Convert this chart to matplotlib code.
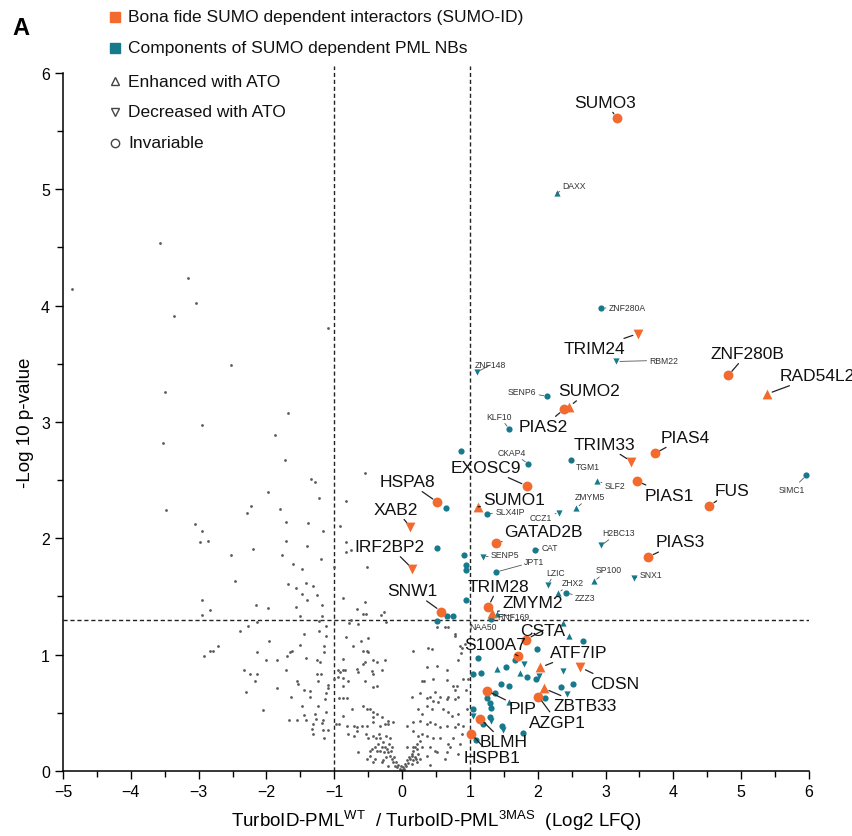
import numpy as np
import matplotlib
matplotlib.use("Agg")
import matplotlib.pyplot as plt

plt.rcParams['font.family'] = ['Liberation Sans', 'DejaVu Sans']
plt.rcParams['mathtext.fontset'] = 'custom'
plt.rcParams['mathtext.rm'] = 'Liberation Sans'

ORANGE = '#f26a2e'
TEAL = '#16798c'
GREY = '#5a5a5a'

# bona fide SUMO dependent interactors (SUMO-ID)
orange_names = ['SUMO3', 'TRIM24', 'ZNF280B', 'RAD54L2', 'SUMO2', 'PIAS2', 'PIAS4', 'TRIM33',
                'PIAS1', 'FUS', 'PIAS3', 'EXOSC9', 'SUMO1', 'GATAD2B', 'HSPA8', 'XAB2',
                'IRF2BP2', 'SNW1', 'TRIM28', 'ZMYM2', 'CSTA', 'S100A7', 'ATF7IP', 'CDSN',
                'ZBTB33', 'AZGP1', 'PIP', 'BLMH', 'HSPB1']
orange_x = [3.17, 3.48, 4.81, 5.38, 2.46, 2.39, 3.73, 3.38, 3.47, 4.53, 3.63, 1.84, 1.12, 1.39,
            0.52, 0.12, 0.15, 0.58, 1.27, 1.33, 1.83, 1.71, 2.04, 2.63, 2.09, 2.01, 1.25, 1.15, 1.02]
orange_y = [5.61, 3.76, 3.40, 3.24, 3.13, 3.11, 2.73, 2.66, 2.49, 2.28, 1.84, 2.45, 2.27, 1.96,
            2.31, 2.10, 1.74, 1.37, 1.41, 1.36, 1.13, 0.99, 0.89, 0.89, 0.71, 0.64, 0.69, 0.45, 0.32]
orange_shape = ['o', 'v', 'o', '^', '^', 'o', 'o', 'v', 'o', 'o', 'o', 'o', '^', 'o', 'o', 'v',
                'v', 'o', 'o', '^', 'o', 'o', '^', 'v', '^', 'o', 'o', 'o', 'o']

# components of SUMO dependent PML NBs (labelled)
teal_names = ['DAXX', 'ZNF280A', 'RBM22', 'ZNF148', 'SENP6', 'KLF10', 'CKAP4', 'TGM1', 'SLF2',
              'ZMYM5', 'CCZ1', 'SLX4IP', 'SIMC1', 'H2BC13', 'CAT', 'SENP5', 'JPT1', 'LZIC',
              'ZHX2', 'ZZZ3', 'SP100', 'SNX1', 'RNF169', 'NAA50']
teal_x = [2.28, 2.94, 3.16, 1.11, 2.14, 1.58, 1.86, 2.49, 2.88, 2.57, 2.32, 1.25, 5.96, 2.94,
          1.96, 1.19, 1.39, 2.15, 2.30, 2.42, 2.83, 3.42, 1.40, 1.31]
teal_y = [4.97, 3.98, 3.52, 3.43, 3.22, 2.94, 2.64, 2.67, 2.49, 2.26, 2.22, 2.21, 2.54, 1.94,
          1.90, 1.84, 1.71, 1.60, 1.53, 1.53, 1.63, 1.66, 1.35, 1.31]
teal_shape = ['^', 'o', 'v', 'v', 'o', 'o', 'o', 'o', '^', '^', 'v', 'o', 'o', 'v', 'o', 'v',
              'o', 'v', '^', 'o', '^', 'v', '^', 'o']

# components of SUMO dependent PML NBs (unlabelled)
teal2_x = [0.94, 0.66, 0.75, 0.52, 0.87, 0.65, 0.52, 0.91, 0.94, 0.94, 2.37, 2.46, 2.67, 1.99,
           1.12, 1.80, 1.67, 1.40, 1.53, 1.05, 1.17, 1.74, 1.84, 1.98, 2.02, 2.37, 1.46, 1.58,
           2.35, 2.52, 2.43, 1.37, 1.25, 1.30, 1.31, 1.58, 1.05, 1.05, 1.30, 1.31, 1.47, 1.49,
           1.78, 1.09, 2.11, 1.19]
teal2_y = [1.47, 1.33, 1.33, 1.29, 2.75, 2.26, 1.92, 1.86, 1.77, 1.73, 1.27, 1.16, 1.12, 1.05,
           0.97, 0.92, 0.95, 0.88, 0.89, 0.83, 0.84, 0.84, 0.81, 0.79, 0.82, 0.86, 0.75, 0.73,
           0.72, 0.75, 0.66, 0.67, 0.63, 0.58, 0.54, 0.59, 0.53, 0.47, 0.46, 0.43, 0.39, 0.35,
           0.33, 0.27, 0.63, 0.40]
teal2_shape = ['o', 'o', 'o', 'o', 'o', 'o', 'o', 'o', 'o', 'o', '^', '^', 'o', 'o',
               'o', 'v', 'o', '^', 'o', 'o', 'o', '^', 'o', 'o', 'v', 'v', 'o', 'o',
               'o', 'o', 'v', 'o', 'o', 'o', 'o', '^', 'o', 'v', 'o', 'v', 'o', 'v',
               'o', 'o', 'o', 'o']

# all other proteins
grey_x = [-4.87, -3.57, -3.16, -3.04, -3.36, -1.10, -2.53, -3.49, -2.95, -3.52, -3.48, -1.68,
          -1.87, -1.73, -1.34, -1.28, -1.22, -1.98, -2.23, -2.29, -1.80, -1.71, -1.39, -1.17,
          -0.91, -0.83, -0.55, -3.05, -2.95, -2.98, -2.86, -2.52, -2.20, -1.71, -1.40, -1.77,
          -1.19, -1.61, -1.47, -0.83, -0.83, -0.75, -1.00, -0.52, -2.46, -1.68, -1.56, -1.42,
          -1.31, -1.47, -1.40, -1.25, -2.95, -2.83, -2.95, -2.15, -1.98, -1.56, -1.18, -1.18,
          -1.50, -0.87, -0.55, -0.58, -0.31, -0.27, -0.75, -0.65, -0.78, -0.24, -2.14, -2.27,
          -1.22, -1.12, -1.45, -1.96, -2.71, -1.50, -1.15, -0.83, -0.72, -0.60, -0.50, -0.66,
          -0.53, 0.52, 0.63, 0.68, 0.78,
          -2.39, -2.92, -2.83, -2.79, -2.14, -2.01, -1.84, -1.70, -1.65, -1.62, -1.22, -1.12,
          -1.15, -1.21, -1.25, -1.42, -2.33, -2.24, -2.14, -2.17, -2.30, -1.84, -1.71, -1.64,
          -1.55, -1.53, -1.45, -1.36, -1.36, -1.47, -2.05, -1.67, -1.55, -1.42, -1.45, -1.28,
          -1.27, -1.31, -1.33, -1.31, -1.24, -1.12, -1.14, -1.09, -1.09, -1.12, -1.17, -1.18,
          -1.17, -1.09, -1.15, -1.25, -1.24, -1.19, -0.94, -0.91, -0.87, -0.84, -1.00, -0.94,
          -0.87, -0.80, -0.87, -0.93, -0.87, -0.81, -0.74, -0.87, -0.97, -0.93, -0.81, -0.71,
          -0.80, -0.71, -0.66, -0.59, -0.52, -0.66, -0.65, -0.58, -0.55, -0.50, -0.58, -0.52,
          -0.87, -0.43, -0.37, -0.25, -0.44, -0.43, -0.30, -0.55, -0.43, -0.37, -0.58, -0.52,
          -0.47, -0.43, -0.37, -0.43, -0.30, -0.43, -0.32, -0.25, -0.21, -0.21, -0.13, -0.66,
          -0.53, -0.50, -0.43,
          -0.32, -0.28, -0.25, -0.22, -0.21, -0.18, -0.15, -0.13, -0.10, -0.07, -0.03, 0.01,
          0.04, 0.07, 0.10, 0.15, 0.16, 0.19, 0.22, 0.27, -0.29, -0.27, -0.24, -0.19, -0.16,
          -0.12, -0.09, -0.06, -0.01, 0.00, 0.03, 0.06, 0.09, 0.12, 0.15, 0.21, 0.24, 0.19,
          0.16, -0.35, -0.38, -0.34, -0.24, -0.18, -0.15, -0.32, -0.37, -0.44, -0.47, -0.40,
          -0.28,
          0.16, 0.38, 0.44, 0.37, 0.52, 0.66, 0.29, 0.32, 0.46, 0.66, 0.75, 0.81, 0.78, 0.15,
          0.27, 0.37, 0.41, 0.49, 0.56, 0.66, 0.68, 0.83, 0.24, 0.29, 0.37, 0.44, 0.46, 0.53,
          0.60, 0.68, 0.74, 0.83, 0.07, 0.16, 0.27, 0.37, 0.41, 0.49, 0.56, 0.66, 0.78, 0.83,
          0.90, 0.16, 0.24, 0.29, 0.37, 0.46, 0.56, 0.68, 0.75, 0.86, 0.07, 0.16, 0.22, 0.29,
          0.41, 0.49, 0.52, 0.66, 0.37, 0.15, 0.27, 0.22, 0.41, -0.40, -0.47, -0.65, -0.52,
          -0.43, -0.29, -0.21, 0.90, 0.97, 0.96, 0.87, 0.83, 0.93, 0.94, 0.78, 0.88, 0.83,
          0.63, 0.71, 0.78, 0.86, 0.88]
grey_y = [4.14, 4.54, 4.24, 4.02, 3.91, 3.81, 3.49, 3.26, 2.97, 2.82, 2.24, 3.08,
          2.89, 2.67, 2.51, 2.48, 2.35, 2.40, 2.28, 2.22, 2.25, 2.14, 2.13, 2.06,
          2.11, 2.32, 2.56, 2.12, 2.06, 1.97, 1.98, 1.86, 1.91, 1.98, 1.93, 1.86,
          1.82, 1.78, 1.74, 1.97, 1.88, 1.90, 1.75, 1.75, 1.63, 1.61, 1.57, 1.62,
          1.59, 1.52, 1.47, 1.51, 1.47, 1.38, 1.34, 1.43, 1.40, 1.41, 1.43, 1.33,
          1.33, 1.49, 1.45, 1.35, 1.34, 1.37, 1.30, 1.26, 1.27, 1.28, 1.28, 1.25,
          1.29, 1.25, 1.18, 1.12, 1.07, 1.08, 1.07, 1.15, 1.07, 1.12, 1.14, 1.39,
          1.35, 1.24, 1.24, 1.24, 1.18,
          1.20, 0.99, 1.03, 1.03, 1.02, 0.95, 0.95, 0.99, 1.02, 1.03, 1.20, 1.16,
          1.02, 0.94, 0.95, 0.97, 0.87, 0.83, 0.83, 0.77, 0.68, 0.71, 0.87, 0.64,
          0.77, 0.75, 0.70, 0.69, 0.64, 0.56, 0.52, 0.44, 0.44, 0.44, 0.48, 0.49,
          0.45, 0.40, 0.36, 0.32, 0.56, 0.67, 0.62, 0.71, 0.74, 0.51, 0.44, 0.41,
          0.35, 0.35, 0.28, 0.83, 0.77, 0.83, 0.87, 0.85, 0.87, 0.87, 0.79, 0.81,
          0.80, 0.77, 0.73, 0.63, 0.63, 0.63, 0.53, 0.47, 0.40, 0.40, 0.39, 0.39,
          0.32, 0.30, 0.38, 0.39, 0.39, 0.88, 0.85, 0.92, 0.94, 1.02, 1.03, 1.03,
          0.96, 0.95, 0.94, 0.95, 0.86, 0.83, 0.87, 0.77, 0.72, 0.73, 0.56, 0.53,
          0.53, 0.51, 0.49, 0.46, 0.46, 0.42, 0.39, 0.40, 0.40, 0.43, 0.42, 0.34,
          0.32, 0.28, 0.30,
          0.28, 0.25, 0.21, 0.19, 0.16, 0.13, 0.10, 0.08, 0.04, 0.03, 0.02, 0.03,
          0.06, 0.09, 0.12, 0.15, 0.17, 0.21, 0.23, 0.26, 0.21, 0.16, 0.12, 0.23, 0.17,
          0.12, 0.08, 0.05, 0.04, 0.01, 0.02, 0.04, 0.07, 0.10, 0.06, 0.10, 0.15, 0.12,
          0.09, 0.23, 0.28, 0.32, 0.30, 0.28, 0.21, 0.17, 0.17, 0.19, 0.13, 0.10,
          0.09,
          1.03, 1.06, 1.05, 0.89, 0.90, 0.87, 0.77, 0.77, 0.79, 0.78, 0.73, 0.73, 0.70, 0.64,
          0.67, 0.63, 0.64, 0.68, 0.64, 0.62, 0.64, 0.64, 0.53, 0.49, 0.56, 0.53, 0.60, 0.59,
          0.53, 0.51, 0.47, 0.49, 0.39, 0.42, 0.43, 0.40, 0.42, 0.40, 0.38, 0.39, 0.38, 0.40,
          0.39, 0.34, 0.30, 0.32, 0.30, 0.28, 0.28, 0.23, 0.28, 0.23, 0.21, 0.21, 0.19, 0.21,
          0.21, 0.17, 0.16, 0.16, 0.13, 0.13, 0.10, 0.08, 0.05, 0.21, 0.17, 0.16, 0.10,
          0.08, 0.08, 0.04, 0.79, 0.79, 0.53, 1.01, 0.95, 1.09, 0.70, 0.62, 0.32, 0.15,
          0.10, 0.21, 1.16, 1.07, 1.06]

# label anchor positions (layout only)
orange_label_pos = {
    'SUMO3': (3.0, 5.75), 'TRIM24': (2.83, 3.63), 'ZNF280B': (5.09, 3.59), 'RAD54L2': (6.12, 3.40),
    'SUMO2': (2.76, 3.27), 'PIAS2': (2.08, 2.96), 'PIAS4': (4.17, 2.87), 'TRIM33': (2.98, 2.81),
    'PIAS1': (3.94, 2.37), 'FUS': (4.87, 2.41), 'PIAS3': (4.10, 1.97), 'EXOSC9': (1.23, 2.61),
    'SUMO1': (1.65, 2.33), 'GATAD2B': (2.09, 2.06), 'HSPA8': (0.08, 2.49), 'XAB2': (-0.10, 2.25),
    'IRF2BP2': (-0.18, 1.93), 'SNW1': (0.15, 1.55), 'TRIM28': (1.42, 1.59), 'ZMYM2': (1.92, 1.45),
    'CSTA': (2.08, 1.21), 'S100A7': (1.37, 1.09), 'ATF7IP': (2.60, 1.02), 'CDSN': (3.13, 0.75),
    'ZBTB33': (2.70, 0.56), 'AZGP1': (2.29, 0.42), 'PIP': (1.77, 0.54), 'BLMH': (1.50, 0.25),
    'HSPB1': (1.33, 0.12)}
teal_label_pos = {
    'DAXX': (2.54, 5.03), 'ZNF280A': (3.32, 3.98), 'RBM22': (3.86, 3.53), 'ZNF148': (1.30, 3.49),
    'SENP6': (1.77, 3.26), 'KLF10': (1.43, 3.05), 'CKAP4': (1.62, 2.74), 'TGM1': (2.74, 2.62),
    'SLF2': (3.14, 2.45), 'ZMYM5': (2.77, 2.36), 'CCZ1': (2.05, 2.18), 'SLX4IP': (1.59, 2.23),
    'SIMC1': (5.75, 2.42), 'H2BC13': (3.19, 2.05), 'CAT': (2.18, 1.92), 'SENP5': (1.52, 1.86),
    'JPT1': (1.95, 1.80), 'LZIC': (2.26, 1.71), 'ZHX2': (2.51, 1.62), 'ZZZ3': (2.70, 1.49),
    'SP100': (3.04, 1.73), 'SNX1': (3.67, 1.69), 'RNF169': (1.64, 1.33), 'NAA50': (1.19, 1.24)}


def scatter_by_shape(ax, xs, ys, shapes, **kw):
    xs = np.asarray(xs)
    ys = np.asarray(ys)
    shapes = np.asarray(shapes)
    for m in ['o', '^', 'v']:
        sel = shapes == m
        if sel.any():
            ax.scatter(xs[sel], ys[sel], marker=m, **kw)


fig = plt.figure(figsize=(8.53, 8.37), dpi=100)
ax = fig.add_axes([0.0739, 0.0777, 0.8745, 0.8339])

ax.scatter(grey_x, grey_y, s=4, color=GREY, linewidths=0, zorder=2)
scatter_by_shape(ax, teal2_x, teal2_y, teal2_shape, s=20, color=TEAL, linewidths=0, zorder=3)
scatter_by_shape(ax, teal_x, teal_y, teal_shape, s=20, color=TEAL, linewidths=0, zorder=3)
scatter_by_shape(ax, orange_x, orange_y, orange_shape, s=50, color=ORANGE, linewidths=0, zorder=4)

# thresholds
ax.axvline(-1, ymax=1.01, color='#222222', lw=1, ls=(0, (3, 2)), zorder=1, clip_on=False)
ax.axvline(1, ymax=1.01, color='#222222', lw=1, ls=(0, (3, 2)), zorder=1, clip_on=False)
ax.axhline(-np.log10(0.05), color='#222222', lw=1, ls=(0, (3, 2)), zorder=1)

# labels
for n, x, y in zip(orange_names, orange_x, orange_y):
    tx, ty = orange_label_pos[n]
    ax.annotate(n, xy=(x, y), xytext=(tx, ty), ha='center', va='center', fontsize=12.5,
                color='#111111', zorder=6, annotation_clip=False,
                arrowprops=dict(arrowstyle='-', color='#222222', lw=0.9, shrinkA=0, shrinkB=4))
for n, x, y in zip(teal_names, teal_x, teal_y):
    tx, ty = teal_label_pos[n]
    ax.annotate(n, xy=(x, y), xytext=(tx, ty), ha='center', va='center', fontsize=6.2,
                color='#333333', zorder=6, annotation_clip=False,
                arrowprops=dict(arrowstyle='-', color='#555555', lw=0.6, shrinkA=0, shrinkB=2.5))

ax.set_xlim(-5, 6)
ax.set_ylim(0, 6)
ax.set_xticks(np.arange(-5, 7, 1))
ax.set_xticks(np.arange(-4.5, 6, 1), minor=True)
ax.set_yticks(np.arange(0, 7, 1))
ax.set_yticks(np.arange(0.5, 6, 1), minor=True)
ax.tick_params(which='major', length=6, width=1, labelsize=11.5, direction='out')
ax.tick_params(which='minor', length=4, width=1, direction='out')
for s in ['top', 'right']:
    ax.spines[s].set_visible(False)
for s in ['left', 'bottom']:
    ax.spines[s].set_linewidth(1.1)

ax.set_ylabel('-Log 10 p-value', fontsize=13.5, labelpad=5)
ax.set_xlabel(r'TurboID-PML$^{\mathregular{WT}}$  / TurboID-PML$^{\mathregular{3MAS}}$  (Log2 LFQ)',
              fontsize=13.5, labelpad=6)

# legend
fig.text(0.014, 0.9665, 'A', fontsize=17, fontweight='bold', va='center', ha='left')
leg_rows = [('s', ORANGE, True, 'Bona fide SUMO dependent interactors (SUMO-ID)'),
            ('s', TEAL, True, 'Components of SUMO dependent PML NBs'),
            ('^', '#444444', False, 'Enhanced with ATO'),
            ('v', '#444444', False, 'Decreased with ATO'),
            ('o', '#444444', False, 'Invariable')]
leg_y = [0.9785, 0.9415, 0.902, 0.865, 0.828]
for (m, c, filled, txt), yy in zip(leg_rows, leg_y):
    ax.plot([0.1348], [yy], marker=m, ms=6.5 if filled else 6, transform=fig.transFigure,
            clip_on=False, color=c, mfc=c if filled else 'none', mew=1.0, ls='none')
    fig.text(0.150, yy, txt, fontsize=12.5, va='center', ha='left', color='#111111')

fig.savefig('out.png', dpi=100)
